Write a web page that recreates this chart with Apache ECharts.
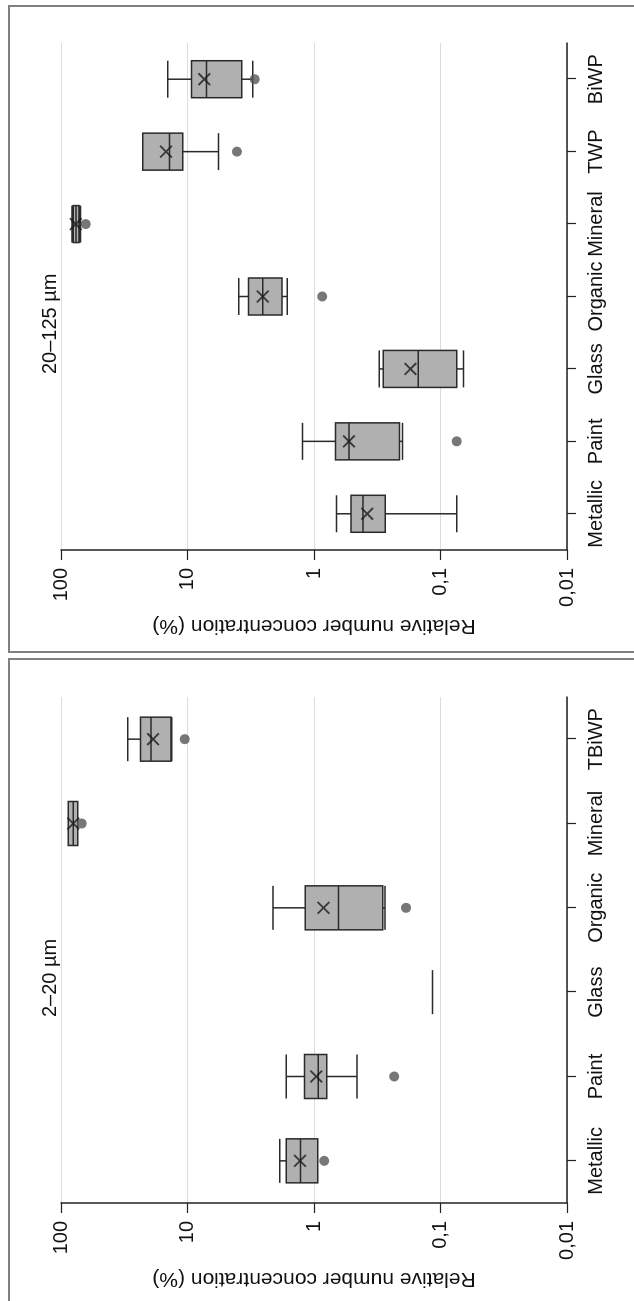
<!DOCTYPE html>
<html>
<head>
<meta charset="utf-8">
<script src="https://cdn.jsdelivr.net/npm/echarts@6/dist/echarts.min.js"></script>
<style>
html,body{margin:0;padding:0;background:#fff;overflow:hidden;width:634px;height:1301px;}
#wrap{position:absolute;left:0;top:0;width:1301px;height:634px;transform-origin:0 0;transform:translateY(1301px) rotate(-90deg);}
#chart{width:1301px;height:634px;}
</style>
</head>
<body>
<div id="wrap"><div id="chart"></div></div>
<script>
// ---- Panel A: 2–20 µm ----
const titleA = '2–20 µm';
const categoriesA = ['Metallic', 'Paint', 'Glass', 'Organic', 'Mineral', 'TBiWP'];
// [min, Q1, median, Q3, max]
const boxA = [
  [0.933, 0.933, 1.28, 1.656, 1.862],
  [0.457, 0.793, 0.925, 1.189, 1.656],
  [0.1156, 0.1156, 0.1156, 0.1156, 0.1156],
  [0.275, 0.286, 0.641, 1.17, 2.11],
  [73.8, 73.8, 80, 87.5, 87.5],
  [13.3, 13.5, 19.4, 23.5, 29.7]
];
const meansA = [1.29, 0.96, null, 0.841, 80, 18.7];
const outliersA = [0.83, 0.232, null, 0.187, 68.6, 10.5];

// ---- Panel B: 20–125 µm ----
const titleB = '20–125 µm';
const categoriesB = ['Metallic', 'Paint', 'Glass', 'Organic', 'Mineral', 'TWP', 'BiWP'];
const boxB = [
  [0.0744, 0.273, 0.409, 0.51, 0.665],
  [0.2, 0.211, 0.529, 0.675, 1.233],
  [0.0657, 0.0744, 0.15, 0.284, 0.305],
  [1.63, 1.79, 2.54, 3.3, 3.94],
  [70, 72, 76, 80, 82],
  [5.69, 10.9, 13.9, 22.6, 22.6],
  [3.05, 3.72, 7.09, 9.31, 14.3]
];
const meansB = [0.38, 0.53, 0.173, 2.54, 76.5, 14.8, 7.36];
const outliersB = [null, 0.0744, null, 0.861, 63.8, 4.06, 2.94];

const valueTicks = ['0,01', '0,1', '1', '10', '100'];
const axisName = 'Relative number concentration (%)';

const FONT = '"Liberation Sans", Arial, sans-serif';
const chart = echarts.init(document.getElementById('chart'), null, {renderer: 'canvas'});

function toPoints(arr) {
  const out = [];
  arr.forEach((v, i) => { if (v !== null) out.push([i, v]); });
  return out;
}
function fmt(v) {
  const p = Math.round(Math.log10(v));
  return valueTicks[p + 2] !== undefined ? valueTicks[p + 2] : String(v).replace('.', ',');
}
const X_PATH = 'path://M0,1 L1,0 L10,9 L9,10 Z M9,0 L10,1 L1,10 L0,9 Z';

function xAxisFor(idx, cats) {
  return {
    type: 'category', gridIndex: idx, data: cats,
    axisLine: {show: true, onZero: false, lineStyle: {color: '#222', width: 1.5}},
    axisTick: {show: true, alignWithLabel: true, length: 9, lineStyle: {color: '#222', width: 1.2}},
    axisLabel: {fontSize: 20, color: '#111', fontFamily: FONT, margin: 19, interval: 0},
    splitLine: {show: false}
  };
}
function yAxisFor(idx) {
  return {
    type: 'log', logBase: 10, gridIndex: idx, min: 0.01, max: 100,
    axisLine: {show: true, lineStyle: {color: '#222', width: 1.5}},
    axisTick: {show: true, length: 10, lineStyle: {color: '#222', width: 1.2}},
    axisLabel: {fontSize: 20, color: '#111', fontFamily: FONT, margin: 18, formatter: fmt},
    splitLine: {show: true, lineStyle: {color: '#dcdcdc', width: 1}},
    minorTick: {show: false},
    name: axisName, nameLocation: 'middle', nameGap: 65,
    nameTextStyle: {fontSize: 21, color: '#111', fontFamily: FONT}
  };
}
const boxStyle = {color: '#b0b0b0', borderColor: '#2a2a2a', borderWidth: 1.5};
function seriesFor(idx, box, means, outliers, bw) {
  return [
    {type: 'boxplot', xAxisIndex: idx, yAxisIndex: idx, data: box, boxWidth: [bw, bw],
     itemStyle: boxStyle, silent: true},
    {type: 'scatter', xAxisIndex: idx, yAxisIndex: idx, data: toPoints(outliers),
     symbol: 'circle', symbolSize: 10, itemStyle: {color: '#555'}, silent: true, z: 3},
    {type: 'scatter', xAxisIndex: idx, yAxisIndex: idx, data: toPoints(means),
     symbol: X_PATH, symbolSize: 13, itemStyle: {color: '#1a1a1a'}, silent: true, z: 4}
  ];
}

const option = {
  backgroundColor: '#fff',
  animation: false,
  textStyle: {fontFamily: FONT},
  title: [
    {text: titleA, left: 284, top: 40, padding: 0,
     textStyle: {fontSize: 20, fontWeight: 'normal', color: '#111', fontFamily: FONT}},
    {text: titleB, left: 927, top: 40, padding: 0,
     textStyle: {fontSize: 20, fontWeight: 'normal', color: '#111', fontFamily: FONT}}
  ],
  grid: [
    {left: 98, top: 61, width: 506, height: 506},
    {left: 751, top: 61, width: 507, height: 506}
  ],
  xAxis: [xAxisFor(0, categoriesA), xAxisFor(1, categoriesB)],
  yAxis: [yAxisFor(0), yAxisFor(1)],
  graphic: [
    {type: 'rect', silent: true, shape: {x: -10, y: 9, width: 652, height: 700},
     style: {fill: 'none', stroke: '#808080', lineWidth: 2}},
    {type: 'rect', silent: true, shape: {x: 649, y: 9, width: 646, height: 700},
     style: {fill: 'none', stroke: '#808080', lineWidth: 2}}
  ],
  series: [].concat(
    seriesFor(0, boxA, meansA, outliersA, 44),
    seriesFor(1, boxB, meansB, outliersB, 37)
  )
};
chart.setOption(option);
</script>
</body>
</html>
